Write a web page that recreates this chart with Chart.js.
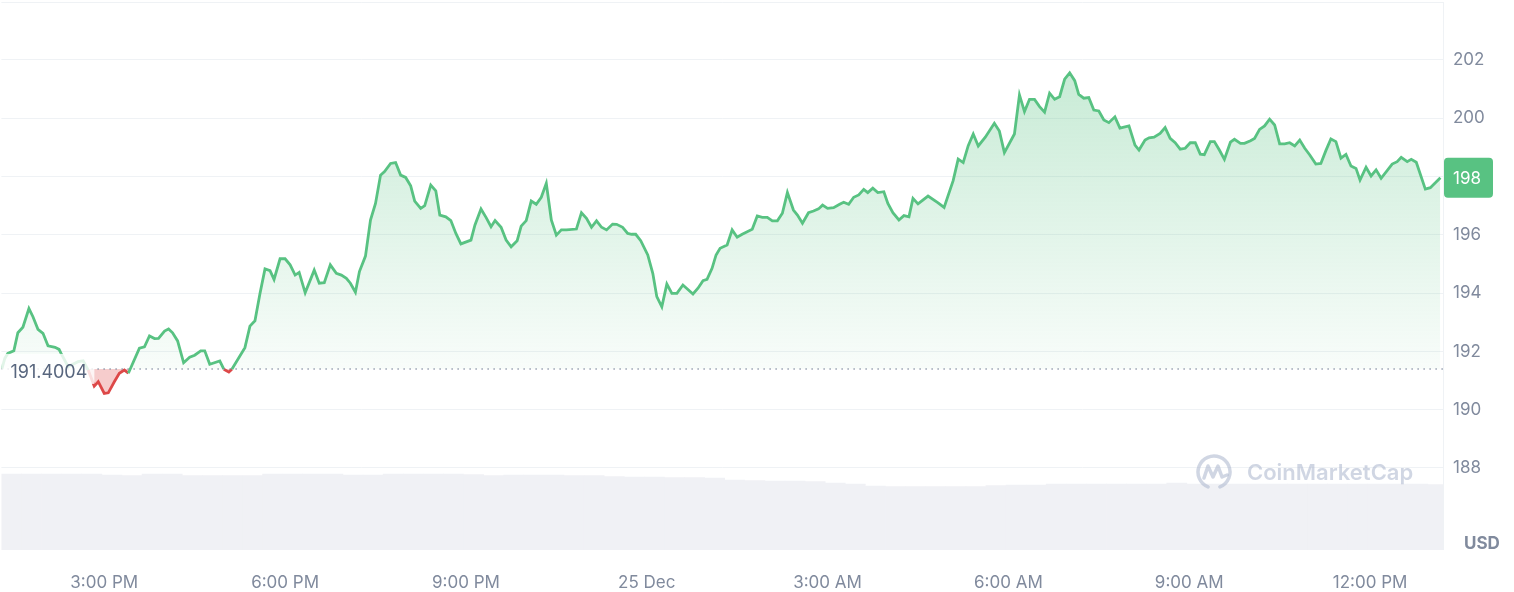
<!DOCTYPE html>
<html>
<head>
<meta charset="utf-8">
<script src="https://cdn.jsdelivr.net/npm/chart.js@4"></script>
<style>
  html, body { margin: 0; padding: 0; background: #fff; }
  #wrap { width: 1514px; height: 592px; }
</style>
</head>
<body>
<div id="wrap"><canvas id="c" width="1514" height="592"></canvas></div>
<script>
// minutes after 12:00 PM, 24 Dec
const priceTimes = [
  78, 81, 84, 90, 94, 99, 105, 109, 114, 119,
  124, 131, 135, 137, 144, 154, 159, 164, 170, 174,
  180, 184, 190, 195, 200, 204, 215, 220, 225, 230,
  234, 240, 244, 248, 253, 259, 265, 270, 276, 280,
  285, 295, 299, 304, 307, 320, 325, 330, 335, 340,
  345, 349, 355, 360, 365, 370, 374, 380, 389, 394,
  399, 405, 411, 416, 421, 425, 430, 434, 440, 445,
  450, 455, 459, 465, 470, 475, 480, 485, 489, 495,
  499, 505, 510, 514, 520, 525, 530, 535, 545, 549,
  555, 560, 565, 569, 575, 580, 585, 591, 595, 600,
  605, 610, 615, 620, 625, 630, 635, 640, 650, 655,
  660, 665, 670, 675, 680, 686, 690, 696, 701, 705,
  709, 714, 721, 726, 730, 735, 740, 745, 750, 756,
  766, 771, 776, 780, 785, 789, 793, 800, 805, 810,
  815, 820, 825, 830, 835, 840, 845, 850, 855, 860,
  866, 870, 875, 881, 886, 891, 895, 900, 906, 912,
  916, 921, 926, 931, 936, 940, 945, 950, 956, 960,
  965, 971, 976, 981, 985, 990, 1000, 1010, 1016, 1025,
  1030, 1035, 1040, 1045, 1050, 1057, 1066, 1071, 1076, 1086,
  1091, 1096, 1101, 1106, 1111, 1116, 1121, 1126, 1131, 1136,
  1141, 1146, 1150, 1155, 1160, 1165, 1170, 1175, 1180, 1186,
  1191, 1200, 1206, 1210, 1216, 1220, 1225, 1231, 1236, 1241,
  1246, 1251, 1256, 1261, 1266, 1271, 1275, 1281, 1285, 1290,
  1295, 1301, 1305, 1311, 1315, 1321, 1325, 1330, 1335, 1340,
  1345, 1350, 1355, 1360, 1365, 1370, 1375, 1380, 1386, 1391,
  1396, 1401, 1406, 1411, 1416, 1421, 1426, 1430, 1436, 1441,
  1446, 1451, 1462, 1467, 1471, 1477, 1481, 1486, 1495, 1500, 1510
];
const prices = [
  191.39, 191.76, 191.93, 192.02, 192.64, 192.83, 193.47, 193.19, 192.76, 192.62,
  192.19, 192.14, 192.07, 191.93, 191.48, 191.65, 191.68, 191.36, 190.81, 190.96,
  190.56, 190.58, 190.96, 191.25, 191.36, 191.25, 192.11, 192.16, 192.53, 192.44,
  192.45, 192.70, 192.77, 192.64, 192.36, 191.61, 191.80, 191.87, 192.02, 192.02,
  191.56, 191.67, 191.39, 191.29, 191.39, 192.13, 192.87, 193.05, 193.99, 194.83,
  194.77, 194.47, 195.18, 195.18, 194.97, 194.62, 194.71, 194.01, 194.79, 194.34,
  194.36, 194.97, 194.68, 194.62, 194.51, 194.34, 194.03, 194.74, 195.27, 196.51,
  197.08, 198.05, 198.17, 198.45, 198.48, 198.05, 197.97, 197.68, 197.16, 196.91,
  197.00, 197.71, 197.51, 196.68, 196.62, 196.49, 196.05, 195.69, 195.82, 196.34,
  196.89, 196.60, 196.28, 196.49, 196.26, 195.82, 195.59, 195.80, 196.30, 196.49,
  197.16, 197.05, 197.29, 197.77, 196.51, 195.99, 196.17, 196.17, 196.20, 196.76,
  196.57, 196.26, 196.48, 196.26, 196.17, 196.37, 196.36, 196.26, 196.05, 196.02,
  196.02, 195.80, 195.31, 194.68, 193.88, 193.53, 194.31, 193.99, 193.99, 194.28,
  193.97, 194.17, 194.43, 194.47, 194.85, 195.31, 195.54, 195.65, 196.17, 195.92,
  196.02, 196.11, 196.19, 196.65, 196.60, 196.60, 196.48, 196.48, 196.74, 197.45,
  196.85, 196.68, 196.40, 196.76, 196.82, 196.89, 197.02, 196.91, 196.93, 197.05,
  197.12, 197.05, 197.29, 197.37, 197.56, 197.45, 197.60, 197.45, 197.48, 197.08,
  196.76, 196.51, 196.66, 196.62, 197.25, 197.06, 197.33, 197.10, 196.94, 197.86,
  198.60, 198.48, 199.06, 199.46, 199.05, 199.35, 199.83, 199.56, 198.82, 199.46,
  200.80, 200.23, 200.65, 200.65, 200.40, 200.21, 200.86, 200.65, 200.74, 201.34,
  201.56, 201.29, 200.82, 200.69, 200.71, 200.28, 200.25, 199.94, 199.85, 200.05,
  199.66, 199.74, 199.08, 198.91, 199.25, 199.33, 199.35, 199.48, 199.68, 199.31,
  199.16, 198.94, 198.97, 199.16, 199.16, 198.77, 198.75, 199.20, 199.20, 198.91,
  198.59, 199.18, 199.28, 199.14, 199.14, 199.23, 199.31, 199.62, 199.74, 199.97,
  199.77, 199.12, 199.12, 199.16, 199.05, 199.25, 198.97, 198.74, 198.43, 198.45,
  198.89, 199.29, 199.20, 198.63, 198.76, 198.36, 198.28, 197.88, 198.32, 198.02,
  198.23, 197.94, 198.43, 198.51, 198.66, 198.51, 198.59, 198.49, 197.57, 197.62, 197.96
];
// volume bars, one every 20 minutes (relative units)
const VOL_START = 87.6;
const VOL_STEP = 20;
const volumes = [
  76, 76, 76, 76, 76, 75, 74.5, 76, 76, 74.5,
  74.5, 74.5, 74.5, 76, 76, 76, 76, 75, 75, 76,
  76, 76, 76, 75.5, 74.5, 75, 75, 75, 74.5, 74.5,
  73.5, 73, 73, 72.5, 72.5, 72, 70, 69.5, 69, 69,
  68.5, 67, 66, 64, 63.5, 63.5, 63.5, 63.5, 63.5, 64.5,
  65, 65, 66, 66, 66, 66, 66, 66, 67, 66,
  66, 66, 66, 66, 66, 66, 66, 66, 66, 66,
  66, 65.5
];
const BASE_PRICE = 191.4004;
const yTicks = [188, 190, 192, 194, 196, 198, 200, 202];
const xTickMinutes = [180, 360, 540, 720, 900, 1080, 1260, 1440];
const xTickLabels = ['3:00 PM', '6:00 PM', '9:00 PM', '25 Dec', '3:00 AM', '6:00 AM', '9:00 AM', '12:00 PM'];

const GREEN = '#58c282';
const RED = '#dd4848';
const GRAY = '#808a9d';
const FONT = 'Inter';

const priceData = priceTimes.map((t, i) => ({ x: t, y: prices[i] }));
const volData = volumes.map((v, i) => ({ x: VOL_START + i * VOL_STEP, y: v }));

const noPad = s => { s.paddingTop = 0; s.paddingBottom = 0; s.paddingLeft = 0; s.paddingRight = 0; };

const overlay = {
  id: 'overlay',
  afterDatasetsDraw(chart) {
    const { ctx, chartArea: a, scales: { y } } = chart;
    ctx.save();
    // frame lines
    ctx.strokeStyle = '#eff2f5';
    ctx.lineWidth = 1;
    ctx.beginPath();
    ctx.moveTo(a.left, a.top + 0.5); ctx.lineTo(a.right, a.top + 0.5);
    ctx.moveTo(a.right + 0.5, a.top); ctx.lineTo(a.right + 0.5, a.bottom);
    ctx.stroke();

    // dotted reference line
    const by = y.getPixelForValue(BASE_PRICE);
    ctx.strokeStyle = 'rgba(128,138,157,0.8)';
    ctx.lineWidth = 1.5;
    ctx.setLineDash([1.5, 4.5]);
    ctx.beginPath(); ctx.moveTo(a.left, by); ctx.lineTo(a.right, by); ctx.stroke();
    ctx.setLineDash([]);

    // reference price label
    ctx.font = '18px ' + FONT;
    const txt = BASE_PRICE.toFixed(4);
    const tw = ctx.measureText(txt).width;
    ctx.fillStyle = 'rgba(255,255,255,0.82)';
    ctx.fillRect(a.left, by - 15, tw + 16, 30);
    ctx.fillStyle = '#58667e';
    ctx.textBaseline = 'middle';
    ctx.textAlign = 'left';
    ctx.fillText(txt, a.left + 9, by + 4);

    // current price badge
    const last = prices[prices.length - 1];
    const ly = y.getPixelForValue(last);
    ctx.fillStyle = GREEN;
    ctx.beginPath();
    ctx.roundRect(a.right + 1, ly - 20, 49, 40, 4);
    ctx.fill();
    ctx.fillStyle = '#fff';
    ctx.font = '17px ' + FONT;
    ctx.fillText(last.toFixed(0), a.right + 10, ly + 1);

    // currency
    ctx.fillStyle = GRAY;
    ctx.font = 'bold 17px ' + FONT;
    ctx.fillText('USD', a.right + 21, a.bottom - 6);

    // watermark
    const cx = a.right - 229, cy = a.bottom - 78;
    ctx.strokeStyle = 'rgba(170,180,204,0.55)';
    ctx.lineWidth = 3.5;
    ctx.lineJoin = 'round';
    ctx.lineCap = 'round';
    ctx.beginPath();
    ctx.arc(cx, cy, 16, Math.PI * 0.62, Math.PI * 2.38);
    ctx.stroke();
    ctx.beginPath();
    ctx.moveTo(cx - 10, cy + 6);
    ctx.lineTo(cx - 6, cy - 6);
    ctx.lineTo(cx - 1, cy + 5);
    ctx.lineTo(cx + 4, cy - 6);
    ctx.lineTo(cx + 8, cy + 5);
    ctx.lineTo(cx + 13, cy + 3);
    ctx.stroke();
    ctx.fillStyle = 'rgba(170,180,204,0.55)';
    ctx.font = '600 22px ' + FONT;
    ctx.fillText('CoinMarketCap', cx + 33, cy + 1);
    ctx.restore();
  }
};

const chart = new Chart(document.getElementById('c'), {
  type: 'line',
  data: {
    datasets: [
      {
        type: 'line',
        data: priceData,
        yAxisID: 'y',
        borderColor: GREEN,
        borderWidth: 2.8,
        pointRadius: 0,
        tension: 0,
        order: 1,
        fill: { target: { value: BASE_PRICE }, above: 'rgba(88,194,130,0.15)', below: 'rgba(224,72,72,0.28)' },
        segment: {
          borderColor: c => ((c.p0.parsed.y + c.p1.parsed.y) / 2 < BASE_PRICE ? RED : GREEN)
        }
      },
      {
        type: 'bar',
        data: volData,
        yAxisID: 'yv',
        backgroundColor: '#f0f1f5',
        barPercentage: 1,
        categoryPercentage: 1,
        grouped: false,
        order: 2
      }
    ]
  },
  options: {
    responsive: false,
    animation: false,
    devicePixelRatio: 1,
    layout: { padding: { top: 2, left: 0, right: 0, bottom: 0 } },
    plugins: { legend: { display: false }, tooltip: { enabled: false } },
    scales: {
      x: {
        type: 'linear',
        offset: false,
        min: 77.6,
        max: 1512.6,
        grid: { display: false, offset: false },
        border: { display: false },
        afterBuildTicks: s => { s.ticks = xTickMinutes.map(v => ({ value: v })); },
        afterFit: s => { s.height = 42; noPad(s); },
        ticks: {
          autoSkip: false,
          maxRotation: 0,
          padding: 15,
          color: GRAY,
          font: { family: FONT, size: 17 },
          callback: v => xTickLabels[xTickMinutes.indexOf(v)]
        }
      },
      y: {
        position: 'right',
        min: 185.186,
        max: 203.99,
        grid: { color: '#eff2f5', drawTicks: false },
        border: { display: false },
        afterBuildTicks: s => { s.ticks = yTicks.map(v => ({ value: v })); },
        afterFit: s => { s.width = 71; noPad(s); },
        ticks: {
          padding: 10,
          crossAlign: 'near',
          color: GRAY,
          font: { family: FONT, size: 17 },
          callback: v => String(v)
        }
      },
      yv: {
        display: false,
        min: 0,
        max: 548
      }
    }
  },
  plugins: [overlay]
});

// green area fades from the high prices down to the reference line
const ys = chart.scales.y;
const grad = chart.ctx.createLinearGradient(0, ys.getPixelForValue(202), 0, ys.getPixelForValue(BASE_PRICE));
grad.addColorStop(0, 'rgba(88,194,130,0.34)');
grad.addColorStop(1, 'rgba(88,194,130,0.04)');
chart.data.datasets[0].fill.above = grad;
chart.update('none');
</script>
</body>
</html>
